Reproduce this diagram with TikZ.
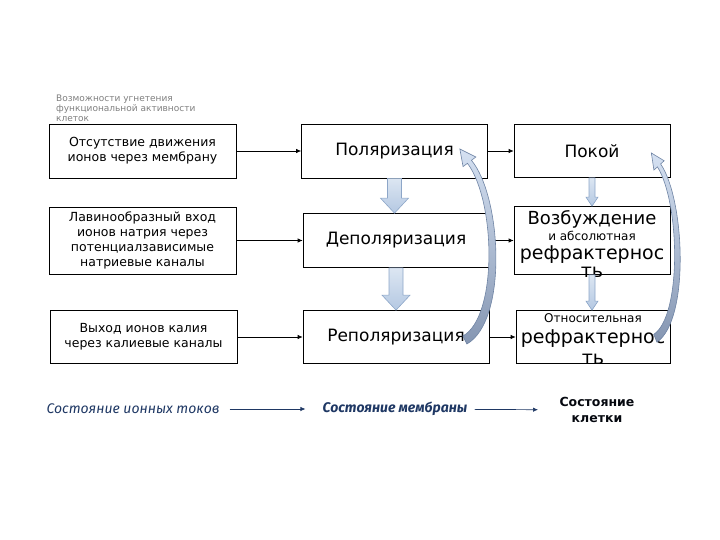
\documentclass[tikz,border=0pt]{standalone}
\usepackage{fontspec}
\setmainfont{DejaVu Sans}
\newfontfamily\handfont{Fira Sans}
\usetikzlibrary{positioning,arrows.meta,calc}
\definecolor{cNote}{HTML}{7F7F7F}
\definecolor{cNavy}{HTML}{1F3864}
\definecolor{cBlockTop}{HTML}{DCE6F2}
\definecolor{cBlockBot}{HTML}{B4C8E2}
\definecolor{cBlockEdge}{HTML}{8DA6C8}
\definecolor{cCurveTop}{HTML}{D5E1F2}
\definecolor{cCurveBot}{HTML}{8596B2}
\definecolor{cCurveEdge}{HTML}{6F84A4}

% wide downward arrow between two boxes: from, to, half shaft, half head, head length, style
\newcommand{\blockdown}[6]{%
  \path[#6] let \p1=(#1.south), \p2=(#2.north) in
    (\x1-#3pt,\y1) -- (\x1+#3pt,\y1) -- (\x1+#3pt,\y2+#5pt) -- (\x1+#4pt,\y2+#5pt)
    -- (\x1,\y2) -- (\x1-#4pt,\y2+#5pt) -- (\x1-#3pt,\y2+#5pt) -- cycle;}

\tikzset{
  recurve/.pic={
    \shadedraw[top color=cCurveTop,bottom color=cCurveBot,draw=cCurveEdge,line width=0.6pt]
      (0,0) -- (16,8) -- (11.6,11.3) .. controls (42,48) and (48,172) .. (7,195)
      -- (3,187) .. controls (38,168) and (36,52) .. (7.6,14.3) -- (3.2,17.6) -- cycle;}
}

\begin{document}
\begin{tikzpicture}[x=1pt,y=-1pt,
      box/.style={draw,line width=0.7pt,inner sep=0pt,align=center},
      ionbox/.style={box,minimum width=187pt,minimum height=54pt,font=\fontsize{12.5}{15}\selectfont},
      membox/.style={box,minimum width=186pt,minimum height=54pt,font=\fontsize{17}{20}\selectfont},
      cellbox/.style={box,minimum width=156pt,minimum height=53pt,font=\fontsize{17}{20}\selectfont},
      hand/.style={font=\handfont\itshape\fontsize{14}{16}\selectfont,text=cNavy,inner sep=2pt},
      arr/.style={-{Latex[length=5pt,width=4.5pt]},line width=0.7pt},
      barr/.style={-{Latex[length=5pt,width=4.5pt]},line width=0.7pt,cNavy},
      wideblock/.style={top color=cBlockTop,bottom color=cBlockBot,draw=cBlockEdge,line width=0.6pt},
      thinblock/.style={top color=cBlockTop,bottom color=cBlockBot,draw=cBlockEdge,line width=0.6pt}]
    \useasboundingbox (0,0) rectangle (720,540);

    % note
    \node[font=\fontsize{9}{10}\selectfont,text=cNote,align=left,anchor=north west,inner sep=0pt]
      (note) at (56,95) {Возможности угнетения\\функциональной активности\\клеток};

    % ion currents
    \node[ionbox] (ion1) at (142.5,151) {Отсутствие движения\\ионов через мембрану};
    \node[ionbox,minimum height=67pt] (ion2) at (142.5,240.5)
      {Лавинообразный вход\\ионов натрия через\\потенциалзависимые\\натриевые каналы};
    \node[ionbox,minimum height=53pt] (ion3) at (143.5,337) {Выход ионов калия\\через калиевые каналы};

    % membrane
    \node[membox] (pol) at (394.5,151) {Поляризация};
    \node[membox] (dep) at (396,240.5) {Деполяризация};
    \node[membox,minimum height=53pt] (rep) at (396,337) {Реполяризация};

    % cell
    \node[cellbox] (rest) at (592,151) {Покой};
    \node[cellbox,minimum height=68pt] (exc) at (592,240.5) {};
    \node[cellbox,minimum width=154pt] (rel) at (593,337) {};
    \node[align=center,inner sep=0pt,font=\fontsize{19}{21}\selectfont] (exctext) at (592,244)
      {{\fontsize{18}{18}\selectfont Возбуждение}\\[-5pt]
       {\fontsize{12}{12}\selectfont и абсолютная}\\[-2pt]
       рефрактернос\\[-3pt]ть};
    \node[align=center,inner sep=0pt,font=\fontsize{19}{21}\selectfont] (reltext) at (593,339)
      {{\fontsize{12}{12}\selectfont Относительная}\\
       рефрактернос\\ть};

    \draw[arr] (ion1) -- (pol);
    \draw[arr] (ion2) -- (dep);
    \draw[arr] (ion3) -- (rep);
    \draw[arr] (pol) -- (rest);
    \draw[arr] (dep) -- (exc);
    \draw[arr] (rep) -- (rel);

    \blockdown{pol}{dep}{7}{14}{15}{wideblock}
    \blockdown{dep}{rep}{7}{14}{15}{wideblock}
    \blockdown{rest}{exc}{3}{6}{9}{thinblock}
    \blockdown{exc}{rel}{3}{6}{9}{thinblock}

    % returning arrows
    \pic at ($(pol.east)+(-28,-2)$) {recurve};
    \pic[xscale=0.8,yscale=0.97] at ($(rest.east)+(-19,2)$) {recurve};

    % bottom row
    \node[hand] (tok) at (133,409) {Состояние ионных токов};
    \node[hand,font=\handfont\itshape\bfseries\fontsize{14}{16}\selectfont] (memb) at (395,409) {Состояние мембраны};
    \node[font=\bfseries\fontsize{12.5}{16}\selectfont,text=black!85!cNavy,align=center] (cell) at (597,410)
      {Состояние\\клетки};
    \draw[barr,shorten <=8pt,shorten >=15pt] (tok) -- (memb);
    \draw[barr,shorten <=5pt,shorten >=18pt] (memb) -- (cell);
  \end{tikzpicture}
\end{document}
